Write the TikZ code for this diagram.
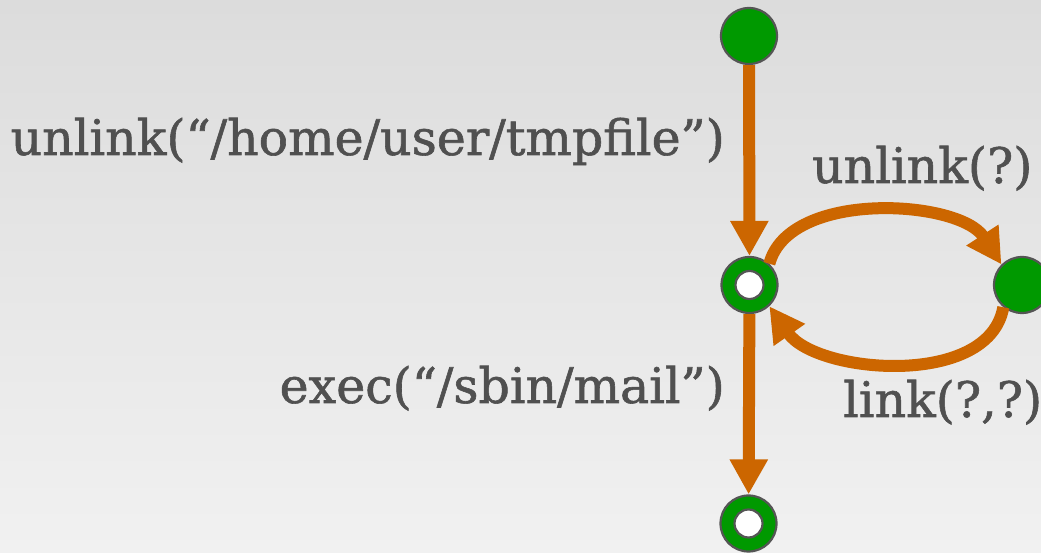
\documentclass[tikz,border=0pt]{standalone}
\usepackage{fontspec}
\setmainfont{DejaVu Serif}
\newfontfamily\lblfont[FakeBold=1.2]{DejaVu Serif}
\usetikzlibrary{arrows.meta}
\definecolor{bgtop}{RGB}{220,220,220}
\definecolor{bgbot}{RGB}{241,241,241}
\definecolor{stategreen}{RGB}{0,153,0}
\definecolor{rim}{RGB}{85,85,85}
\definecolor{flow}{RGB}{204,102,0}
\definecolor{ink}{RGB}{80,80,80}
\tikzset{
  state/.style={circle, draw=rim, line width=2.2pt, fill=stategreen,
    minimum size=56pt, inner sep=0pt},
  hole/.style={circle, draw=rim, line width=2.2pt, fill=white,
    minimum size=28pt, inner sep=0pt},
  trans/.style={draw=flow, line width=12pt,
    -{Triangle[length=35pt,width=36pt]}},
  lbl/.style={text=ink, inner sep=0pt, font=\lblfont\fontsize{49}{58}\selectfont},
}
\begin{document}
\begin{tikzpicture}[x=1pt,y=1pt]
  \useasboundingbox (0,0) rectangle (1041,553);
  \shade[top color=bgtop, bottom color=bgbot] (0,0) rectangle (1041,553);

  % states
  \node[state] (top) at (749,517) {};
  \node[state] (mid) at (749.5,268) {};
  \node[hole] (midhole) at (mid) {};
  \node[state] (right) at (1022,268) {};
  \node[state] (bot) at (748.5,29.5) {};
  \node[hole] (bothole) at (bot) {};

  % transitions
  \draw[trans] (top) -- (mid);
  \draw[trans] (mid) -- (bot);
  \draw[trans] (mid.47) to[out=75,in=123,looseness=0.85] (right.135);
  \draw[trans] (right.230) to[out=260,in=305,looseness=0.9] (mid.313);

  % labels
  \node[lbl, anchor=base east] (lunlinkfile) at (725,398) {unlink(“/home/user/tmpfile”)};
  \node[lbl, anchor=base east] (lexec) at (725,150) {exec(“/sbin/mail”)};
  \node[lbl, anchor=base west] (lunlink) at (812,370) {unlink(?)};
  \node[lbl, anchor=base west] (llink) at (843,136) {link(?,?)};
\end{tikzpicture}
\end{document}
